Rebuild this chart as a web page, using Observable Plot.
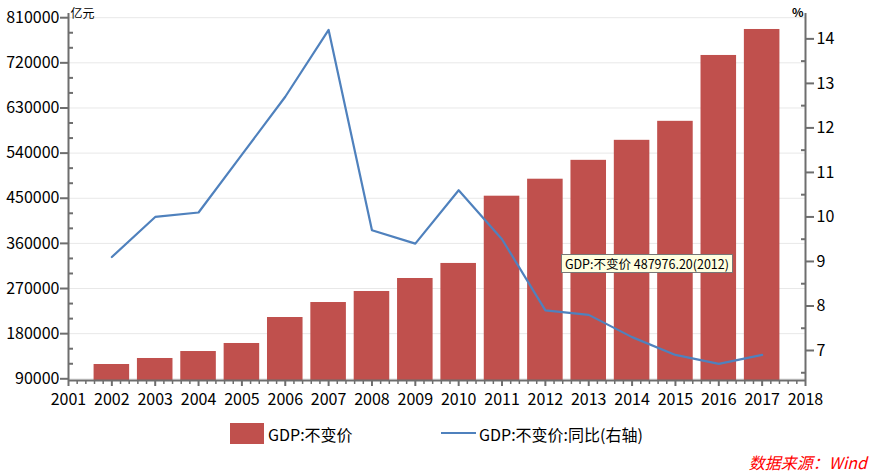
<!DOCTYPE html>
<html>
<head>
<meta charset="utf-8">
<script src="https://cdn.jsdelivr.net/npm/d3@7"></script>
<script src="https://cdn.jsdelivr.net/npm/@observablehq/plot@0.6"></script>
<style>
  body { margin: 0; background: #fff; }
  #wrap { position: relative; width: 875px; height: 473px; overflow: hidden;
          font-family: 'Noto Sans CJK SC', 'Noto Sans', sans-serif; color: #000; }
  #wrap svg { position: absolute; left: 0; top: 0; }
  .leg { position: absolute; font-size: 16px; line-height: 20px; white-space: nowrap; }
  .sw { position: absolute; }
  #src { position: absolute; color: #ff0000; font-style: italic; font-size: 16px; line-height: 18px; white-space: nowrap; padding-right: 4px; }
  #tip { position: absolute; background: #ffffe1; border: 1px solid #777; font-size: 12.5px;
         line-height: 17px; padding: 0 3px; white-space: nowrap; }
</style>
</head>
<body>
<div id="wrap"></div>
<script>
// ---- data ----
const years  = [2002, 2003, 2004, 2005, 2006, 2007, 2008, 2009, 2010, 2011, 2012, 2013, 2014, 2015, 2016, 2017];
const gdp    = [118500, 130500, 144400, 160400, 212200, 242100, 264100, 290000, 320000, 454100, 487976.2, 525600, 565500, 603400, 734700, 786500];
const growth = [9.1, 10.0, 10.1, 11.4, 12.7, 14.2, 9.7, 9.4, 10.6, 9.5, 7.9, 7.8, 7.3, 6.9, 6.7, 6.9];
const xTickYears = [2001, 2002, 2003, 2004, 2005, 2006, 2007, 2008, 2009, 2010, 2011, 2012, 2013, 2014, 2015, 2016, 2017, 2018];
const leftTicks  = [90000, 180000, 270000, 360000, 450000, 540000, 630000, 720000, 810000];
const rightTicks = [7, 8, 9, 10, 11, 12, 13, 14];
const seriesNames = ["GDP:不变价", "GDP:不变价:同比(右轴)"];
const unitLeft = "亿元", unitRight = "%";
const sourceText = "数据来源：Wind";
const tipYear = 2012;

// ---- scales ----
const W = 875, H = 415;
const L0 = 86610, L1 = 818375;   // left axis domain
const R0 = 6.326, R1 = 14.57;    // right axis domain
const toLeft = v => L0 + (v - R0) * (L1 - L0) / (R1 - R0);
const fromLeft = v => R0 + (v - L0) * (R1 - R0) / (L1 - L0);

const data = years.map((y, i) => ({year: y, gdp: gdp[i], growth: growth[i]}));
const leftMinor = d3.range(90000, 810001, 30000).filter(v => !leftTicks.includes(v));
const rightMinor = d3.range(6.5, 14.5, 1).map(toLeft);
const xMinor = d3.range(2001, 2018.0001, 0.2).map(v => +v.toFixed(1)).filter(v => Math.abs(v - Math.round(v)) > 0.01);

const axisColor = "#6e6e6e";
const barColor = "#c0504d";
const lineColor = "#4f81bd";

const plot = Plot.plot({
  width: W, height: H,
  marginLeft: 68, marginRight: 70, marginTop: 13, marginBottom: 35,
  style: {fontFamily: "'Noto Sans CJK SC', 'Noto Sans', sans-serif", fontSize: "16px", color: "#000", background: "transparent"},
  x: {type: "linear", domain: [2001, 2018], axis: null},
  y: {domain: [L0, L1], axis: null},
  marks: [
    Plot.gridY(leftTicks, {stroke: "#e8e8e8", strokeOpacity: 1, strokeWidth: 1}),
    Plot.rect(data, {x1: d => d.year - 0.41, x2: d => d.year + 0.41, y1: () => L0, y2: "gdp", fill: barColor}),
    Plot.line(data, {x: "year", y: d => toLeft(d.growth), stroke: lineColor, strokeWidth: 2.2}),
    // axis lines
    Plot.ruleX([2001, 2018], {stroke: axisColor, strokeWidth: 2}),
    Plot.ruleY([L0], {stroke: axisColor, strokeWidth: 2}),
    // left axis
    Plot.axisY(leftTicks, {anchor: "left", tickSize: 8, tickPadding: 1, tickFormat: d => String(d), stroke: axisColor, strokeWidth: 2, fill: "#000", fontSize: 16, label: null}),
    Plot.axisY(leftMinor, {anchor: "left", tickSize: 5, dx: 5, tickFormat: () => "", stroke: axisColor, strokeWidth: 2, label: null}),
    // right axis
    Plot.axisY(rightTicks.map(toLeft), {anchor: "right", tickSize: 8, tickPadding: 3, tickFormat: d => String(Math.round(fromLeft(d))), stroke: axisColor, strokeWidth: 2, fill: "#000", fontSize: 16, label: null}),
    Plot.axisY(rightMinor, {anchor: "right", tickSize: 5, dx: -5, tickFormat: () => "", stroke: axisColor, strokeWidth: 2, label: null}),
    // x axis
    Plot.axisX(xTickYears, {anchor: "bottom", tickSize: 6, tickPadding: 7, tickFormat: d => String(d), stroke: axisColor, strokeWidth: 2, fill: "#000", fontSize: 16, label: null}),
    Plot.axisX(xMinor, {anchor: "bottom", tickSize: 4, tickFormat: () => "", stroke: axisColor, strokeWidth: 1.5, label: null}),
    // units
    Plot.text([unitLeft], {frameAnchor: "top-left", dx: 2, dy: 1, textAnchor: "start", lineAnchor: "middle", fontSize: 12, fill: "#000"}),
    Plot.text([unitRight], {frameAnchor: "top-right", dx: -2, dy: 0, textAnchor: "end", lineAnchor: "middle", fontSize: 12, fontWeight: "bold", fill: "#000"})
  ]
});

const wrap = document.getElementById("wrap");
wrap.appendChild(plot);

// legend
const sw1 = document.createElement("div");
sw1.className = "sw";
Object.assign(sw1.style, {left: "230px", top: "423px", width: "34px", height: "21px", background: barColor});
wrap.appendChild(sw1);
const t1 = document.createElement("div");
t1.className = "leg"; t1.textContent = seriesNames[0];
Object.assign(t1.style, {left: "268px", top: "424px"});
wrap.appendChild(t1);
const sw2 = document.createElement("div");
sw2.className = "sw";
Object.assign(sw2.style, {left: "441px", top: "432px", width: "35px", height: "2px", background: lineColor});
wrap.appendChild(sw2);
const t2 = document.createElement("div");
t2.className = "leg"; t2.textContent = seriesNames[1];
Object.assign(t2.style, {left: "479px", top: "424px"});
wrap.appendChild(t2);

// source
const src = document.createElement("div");
src.id = "src"; src.textContent = sourceText;
Object.assign(src.style, {right: "4px", top: "453px"});
wrap.appendChild(src);

// tooltip anchored on the 2012 bar
const xs = plot.scale("x"), ys = plot.scale("y");
const tipDatum = data.find(d => d.year === tipYear);
const tip = document.createElement("div");
tip.id = "tip";
tip.textContent = `${seriesNames[0]} ${tipDatum.gdp.toFixed(2)}(${tipYear})`;
Object.assign(tip.style, {left: (xs.apply(tipYear) + 16) + "px", top: (ys.apply(tipDatum.gdp) + 75) + "px"});
wrap.appendChild(tip);
</script>
</body>
</html>
